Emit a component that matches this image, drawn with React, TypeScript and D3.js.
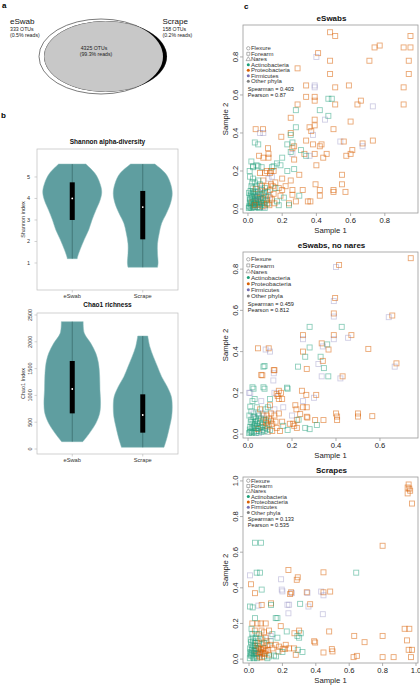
import * as d3 from 'd3';

type Pt = [number, number, number];

const FONT = '"Liberation Sans", Arial, Helvetica, sans-serif';

// a: OTU overlap between the two sampling methods
const vennNames = ['eSwab', 'Scrape'];
const vennOtus = [333, 158, 4325];
const vennReads = [0.5, 0.2, 99.3];

// b: violin outlines as [value, relative half width], plus box stats [q1, median, q3]
const groups = ['eSwab', 'Scrape'];
const shannonProfiles: [number, number][][] = [
  [[1.2, 0.17], [1.23, 0.17], [1.6, 0.26], [2.1, 0.41], [2.55, 0.56], [3.0, 0.67], [3.45, 0.8], [3.9, 0.94], [4.3, 1.0], [4.7, 0.94], [5.15, 0.78], [5.6, 0.46]],
  [[0.8, 0.5], [1.0, 0.52], [1.45, 0.5], [1.9, 0.5], [2.4, 0.56], [2.85, 0.64], [3.3, 0.8], [3.77, 0.94], [4.23, 1.0], [4.7, 0.94], [5.15, 0.78], [5.6, 0.41]],
];
const shannonBoxes = [[3.0, 4.0, 4.75], [2.1, 3.6, 4.35]];
const shannonTicks = [1, 2, 3, 4, 5];

const chaoProfiles: [number, number][][] = [
  [[137, 0.36], [292, 0.58], [479, 0.8], [665, 0.93], [852, 0.96], [1100, 0.94], [1350, 0.93], [1598, 0.89], [1785, 0.8], [1971, 0.63], [2158, 0.41], [2376, 0.37]],
  [[31, 0.72], [230, 0.83], [417, 0.91], [603, 0.98], [790, 1.0], [976, 0.97], [1163, 0.83], [1350, 0.64], [1536, 0.5], [1723, 0.36], [1909, 0.24], [2108, 0.17]],
];
const chaoBoxes = [[665, 1119, 1642], [305, 634, 1020]];
const chaoTicks = [0, 500, 1000, 1500, 2000, 2500];

// c: relative abundance per OTU in sample 1 vs sample 2, phylum index
const phylumNames = ['Actinobacteria', 'Proteobacteria', 'Firmicutes', 'Other phyla'];
const phylumColors = ['#1b9e77', '#d95f02', '#7570b3', '#808080'];
const phylumOpacity = [0.5, 0.55, 0.35, 0.4];
const siteNames = ['Flexure', 'Forearm', 'Nares'];

const eswabSpread: Pt[] = [
  [0.48, 0.93, 1], [0.51, 0.91, 1], [0.95, 0.91, 1], [0.77, 0.86, 1], [0.74, 0.85, 1], [0.91, 0.85, 1], [0.95, 0.85, 1],
  [0.41, 0.82, 1], [0.40, 0.80, 2], [0.48, 0.78, 1], [0.71, 0.78, 1], [0.94, 0.78, 1], [0.29, 0.74, 1], [0.48, 0.71, 1],
  [0.94, 0.71, 1], [0.34, 0.65, 1], [0.39, 0.65, 2], [0.39, 0.64, 2], [0.59, 0.65, 1], [0.51, 0.64, 1], [0.91, 0.64, 1],
  [0.34, 0.59, 1], [0.39, 0.59, 1], [0.39, 0.57, 1], [0.29, 0.55, 1], [0.51, 0.55, 1], [0.64, 0.55, 1], [0.66, 0.57, 1],
  [0.73, 0.54, 2], [0.91, 0.55, 1], [0.47, 0.58, 0], [0.49, 0.58, 0], [0.42, 0.52, 0], [0.28, 0.52, 0], [0.47, 0.49, 0],
  [0.45, 0.47, 2], [0.39, 0.47, 1], [0.25, 0.48, 1], [0.50, 0.42, 1], [0.60, 0.46, 1], [0.045, 0.42, 1], [0.088, 0.42, 1],
  [0.09, 0.40, 2], [0.07, 0.40, 2], [0.195, 0.38, 1], [0.25, 0.40, 1], [0.28, 0.43, 0], [0.36, 0.43, 1], [0.39, 0.44, 1],
  [0.37, 0.41, 1], [0.38, 0.39, 2], [0.04, 0.35, 0], [0.06, 0.34, 0], [0.117, 0.32, 1], [0.23, 0.34, 0], [0.27, 0.33, 1],
  [0.34, 0.36, 1], [0.38, 0.34, 1], [0.43, 0.34, 1], [0.54, 0.355, 2], [0.56, 0.355, 1], [0.67, 0.345, 1], [0.67, 0.33, 2],
  [0.73, 0.36, 1], [0.33, 0.29, 1], [0.39, 0.29, 1], [0.46, 0.29, 1], [0.44, 0.27, 1], [0.575, 0.28, 1], [0.60, 0.29, 1],
  [0.065, 0.28, 1], [0.12, 0.27, 1], [0.2, 0.27, 0], [0.25, 0.30, 0], [0.26, 0.32, 1], [0.34, 0.28, 0], [0.36, 0.28, 2],
  [0.25, 0.39, 0], [0.26, 0.35, 0], [0.31, 0.31, 0], [0.26, 0.29, 2], [0.42, 0.33, 1], [0.61, 0.31, 1], [0.40, 0.23, 1],
  [0.27, 0.26, 1], [0.19, 0.23, 0], [0.15, 0.225, 0], [0.135, 0.2, 1], [0.03, 0.225, 0], [0.06, 0.225, 0], [0.025, 0.14, 0],
  [0.55, 0.18, 1], [0.395, 0.13, 1], [0.42, 0.10, 1], [0.365, 0.04, 1], [0.42, 0.07, 1], [0.50, 0.10, 1], [0.50, 0.09, 1],
  [0.55, 0.13, 1], [0.57, 0.09, 1], [0.30, 0.07, 0], [0.32, 0.10, 1], [0.26, 0.075, 1], [0.24, 0.03, 1], [0.35, 0.04, 1],
];
const eswabCore: Pt[] = [
  [0.01, 0.01, 0], [0.02, 0.02, 0], [0.015, 0.04, 0], [0.03, 0.01, 0], [0.04, 0.03, 0], [0.01, 0.06, 0], [0.03, 0.05, 0],
  [0.05, 0.02, 0], [0.06, 0.04, 0], [0.02, 0.08, 0], [0.04, 0.07, 0], [0.07, 0.01, 0], [0.08, 0.03, 0], [0.05, 0.06, 1],
  [0.07, 0.06, 1], [0.09, 0.05, 1], [0.03, 0.09, 0], [0.06, 0.09, 0], [0.1, 0.02, 0], [0.11, 0.05, 1], [0.12, 0.03, 0],
  [0.08, 0.08, 1], [0.1, 0.09, 1], [0.02, 0.12, 0], [0.05, 0.12, 0], [0.08, 0.12, 1], [0.11, 0.12, 1], [0.13, 0.1, 1],
  [0.15, 0.08, 1], [0.14, 0.05, 1], [0.17, 0.04, 0], [0.19, 0.07, 1], [0.18, 0.11, 1], [0.16, 0.14, 1], [0.14, 0.17, 2],
  [0.15, 0.2, 1], [0.13, 0.19, 1], [0.12, 0.16, 2], [0.09, 0.15, 1], [0.06, 0.15, 0], [0.03, 0.16, 0], [0.01, 0.2, 0],
  [0.03, 0.22, 0], [0.05, 0.23, 0], [0.08, 0.22, 0], [0.02, 0.25, 0], [0.1, 0.19, 1], [0.2, 0.16, 1], [0.22, 0.12, 1],
  [0.25, 0.15, 1], [0.23, 0.2, 0], [0.27, 0.21, 0], [0.3, 0.18, 1], [0.21, 0.06, 0], [0.24, 0.02, 0], [0.28, 0.04, 1],
  [0.26, 0.1, 1], [0.04, 0.01, 3], [0.06, 0.02, 2], [0.09, 0.01, 2], [0.12, 0.07, 2], [0.07, 0.11, 2], [0.005, 0.005, 0],
  [0.02, 0.005, 0], [0.01, 0.03, 0], [0.035, 0.025, 0], [0.025, 0.035, 1], [0.045, 0.045, 0], [0.055, 0.01, 0],
  [0.065, 0.025, 1], [0.075, 0.045, 0], [0.085, 0.015, 1], [0.095, 0.035, 0], [0.015, 0.095, 0], [0.045, 0.105, 1],
  [0.055, 0.075, 0], [0.105, 0.07, 0], [0.125, 0.02, 1], [0.135, 0.13, 1], [0.16, 0.11, 0], [0.18, 0.02, 0], [0.2, 0.1, 1],
  [0.11, 0.2, 1], [0.14, 0.22, 0], [0.17, 0.24, 0], [0.09, 0.27, 1], [0.12, 0.29, 1], [0.07, 0.19, 1],
  [0.008, 0.015, 0], [0.018, 0.028, 0], [0.028, 0.018, 0], [0.038, 0.008, 0], [0.012, 0.05, 0], [0.024, 0.062, 0],
  [0.036, 0.042, 0], [0.048, 0.034, 0], [0.058, 0.052, 0], [0.068, 0.038, 0], [0.078, 0.022, 0], [0.088, 0.058, 0],
  [0.016, 0.072, 0], [0.032, 0.082, 0], [0.044, 0.088, 0], [0.062, 0.07, 0], [0.072, 0.08, 0], [0.082, 0.1, 0],
  [0.094, 0.082, 0], [0.104, 0.045, 0], [0.115, 0.09, 0], [0.028, 0.108, 0], [0.006, 0.085, 0], [0.05, 0.05, 0],
  [0.066, 0.005, 0], [0.098, 0.006, 0], [0.112, 0.028, 1], [0.13, 0.06, 1], [0.145, 0.12, 1], [0.155, 0.03, 1],
  [0.04, 0.14, 0], [0.07, 0.13, 0], [0.012, 0.17, 0], [0.1, 0.11, 0], [0.04, 0.02, 1], [0.06, 0.065, 2],
];

const noNaresSpread: Pt[] = [
  [0.74, 0.853, 1], [0.414, 0.82, 1], [0.40, 0.81, 2], [0.396, 0.66, 1], [0.39, 0.645, 2], [0.39, 0.585, 1], [0.39, 0.57, 2],
  [0.656, 0.575, 1], [0.64, 0.567, 2], [0.28, 0.52, 0], [0.426, 0.52, 0], [0.25, 0.48, 1], [0.25, 0.46, 2], [0.39, 0.48, 1],
  [0.39, 0.46, 2], [0.47, 0.48, 1], [0.455, 0.467, 2], [0.335, 0.44, 1], [0.36, 0.435, 0], [0.366, 0.41, 1], [0.34, 0.425, 2],
  [0.547, 0.413, 1], [0.045, 0.416, 1], [0.08, 0.41, 2], [0.094, 0.416, 1], [0.10, 0.40, 2], [0.25, 0.40, 1], [0.26, 0.375, 0],
  [0.28, 0.42, 0], [0.33, 0.375, 0], [0.32, 0.34, 2], [0.34, 0.355, 1], [0.345, 0.32, 0], [0.335, 0.28, 2], [0.365, 0.28, 0],
  [0.43, 0.28, 1], [0.42, 0.27, 2], [0.675, 0.343, 1], [0.667, 0.327, 2], [0.267, 0.316, 1], [0.227, 0.327, 0],
  [0.12, 0.31, 1], [0.117, 0.295, 2], [0.07, 0.327, 0], [0.06, 0.287, 1], [0.07, 0.227, 0], [0.02, 0.227, 0],
  [0.177, 0.225, 0], [0.14, 0.21, 1], [0.13, 0.195, 1], [0.155, 0.17, 1], [0.245, 0.21, 1], [0.265, 0.19, 1], [0.31, 0.19, 1],
  [0.30, 0.176, 2], [0.215, 0.14, 1], [0.267, 0.13, 1], [0.01, 0.2, 2], [0.01, 0.133, 0], [0.40, 0.10, 1], [0.405, 0.085, 1],
  [0.405, 0.068, 1], [0.50, 0.10, 1], [0.50, 0.085, 1], [0.565, 0.087, 1], [0.237, 0.097, 1], [0.267, 0.084, 1],
  [0.222, 0.068, 1], [0.305, 0.068, 1], [0.343, 0.068, 1], [0.313, 0.044, 0], [0.26, 0.03, 0], [0.28, 0.024, 0],
  [0.222, 0.03, 1], [0.205, 0.05, 1],
];
const noNaresCore: Pt[] = [
  [0.005, 0.005, 0], [0.015, 0.015, 0], [0.01, 0.035, 0], [0.025, 0.01, 0], [0.035, 0.03, 0], [0.02, 0.05, 0], [0.04, 0.05, 0],
  [0.05, 0.015, 0], [0.06, 0.035, 0], [0.015, 0.07, 0], [0.035, 0.075, 0], [0.065, 0.06, 1], [0.075, 0.015, 0], [0.085, 0.04, 1],
  [0.05, 0.09, 0], [0.025, 0.1, 2], [0.07, 0.09, 1], [0.095, 0.075, 1], [0.1, 0.02, 0], [0.11, 0.05, 1], [0.12, 0.09, 1],
  [0.13, 0.03, 1], [0.08, 0.12, 0], [0.04, 0.13, 0], [0.1, 0.14, 1], [0.12, 0.12, 2], [0.14, 0.1, 1], [0.155, 0.06, 1],
  [0.16, 0.13, 2], [0.14, 0.17, 1], [0.15, 0.2, 1], [0.135, 0.185, 1], [0.12, 0.2, 2], [0.1, 0.17, 0], [0.06, 0.16, 2],
  [0.03, 0.17, 0], [0.075, 0.22, 0], [0.025, 0.22, 0], [0.18, 0.22, 0], [0.19, 0.05, 1], [0.2, 0.09, 2], [0.22, 0.12, 1],
  [0.18, 0.02, 0], [0.21, 0.04, 1], [0.23, 0.07, 0], [0.25, 0.16, 2], [0.25, 0.13, 1], [0.27, 0.08, 1], [0.05, 0.005, 2],
  [0.09, 0.01, 3], [0.045, 0.025, 1], [0.055, 0.055, 0], [0.03, 0.085, 0], [0.115, 0.26, 2], [0.117, 0.31, 1],
  [0.065, 0.285, 1], [0.075, 0.33, 0], [0.005, 0.2, 2], [0.08, 0.07, 0], [0.02, 0.03, 0], [0.01, 0.01, 0], [0.03, 0.045, 0],
  [0.045, 0.065, 0], [0.065, 0.02, 0], [0.09, 0.06, 0], [0.105, 0.1, 1], [0.16, 0.04, 0], [0.145, 0.015, 1],
  [0.008, 0.022, 0], [0.018, 0.006, 0], [0.028, 0.04, 0], [0.038, 0.014, 0], [0.012, 0.058, 0], [0.024, 0.082, 0],
  [0.042, 0.04, 0], [0.052, 0.03, 0], [0.058, 0.075, 0], [0.068, 0.045, 0], [0.078, 0.03, 0], [0.088, 0.025, 0],
  [0.006, 0.09, 0], [0.032, 0.06, 0], [0.046, 0.1, 0], [0.062, 0.01, 0], [0.072, 0.07, 0], [0.082, 0.055, 1],
  [0.094, 0.045, 1], [0.104, 0.065, 1], [0.015, 0.11, 0], [0.055, 0.12, 1], [0.085, 0.09, 1], [0.035, 0.005, 0],
  [0.11, 0.015, 1], [0.125, 0.06, 1], [0.065, 0.1, 2], [0.02, 0.16, 0], [0.09, 0.13, 0],
];

const scrapeSpread: Pt[] = [
  [0.956, 0.98, 1], [0.95, 0.963, 1], [0.96, 0.957, 1], [0.965, 0.945, 1], [0.95, 0.93, 1], [0.976, 0.873, 1], [0.80, 0.636, 1],
  [0.036, 0.653, 0], [0.072, 0.653, 0], [0.642, 0.485, 0], [0.236, 0.5, 1], [0.446, 0.487, 1], [0.046, 0.485, 0],
  [0.066, 0.485, 0], [0.192, 0.448, 2], [0.292, 0.459, 1], [0.286, 0.445, 1], [0.076, 0.39, 0], [0.196, 0.39, 2],
  [0.256, 0.37, 2], [0.246, 0.365, 1], [0.252, 0.375, 1], [0.346, 0.375, 1], [0.35, 0.372, 2], [0.432, 0.379, 2],
  [0.446, 0.375, 1], [0.486, 0.379, 1], [0.446, 0.358, 2], [0.132, 0.313, 1], [0.132, 0.304, 0], [0.076, 0.304, 1],
  [0.056, 0.30, 2], [0.006, 0.295, 0], [0.022, 0.29, 0], [0.306, 0.31, 0], [0.366, 0.308, 1], [0.356, 0.295, 2],
  [0.236, 0.257, 2], [0.442, 0.252, 2], [0.17, 0.23, 0], [0.48, 0.155, 1], [0.63, 0.13, 1], [0.80, 0.13, 1],
  [0.932, 0.17, 1], [0.96, 0.17, 1], [0.946, 0.105, 1], [0.956, 0.052, 1], [0.976, 0.052, 1], [0.692, 0.095, 1],
  [0.496, 0.056, 1], [0.50, 0.043, 1], [0.446, 0.037, 1], [0.396, 0.093, 1], [0.626, 0.011, 1], [0.646, 0.018, 1],
  [0.80, 0.011, 1], [0.866, 0.011, 1], [0.97, 0.011, 1], [0.28, 0.024, 1], [0.292, 0.052, 0], [0.202, 0.058, 1],
  [0.216, 0.058, 1], [0.176, 0.043, 1], [0.162, 0.015, 0], [0.122, 0.015, 0], [0.32, 0.04, 0], [0.27, 0.06, 1],
  [0.31, 0.145, 0], [0.272, 0.145, 1], [0.226, 0.155, 0], [0.23, 0.305, 2], [0.24, 0.305, 2], [0.2, 0.38, 2],
];
const scrapeCore: Pt[] = [
  [0.005, 0.005, 0], [0.015, 0.02, 0], [0.01, 0.04, 0], [0.025, 0.01, 0], [0.03, 0.03, 0], [0.02, 0.06, 0], [0.04, 0.05, 1],
  [0.045, 0.015, 0], [0.055, 0.035, 1], [0.015, 0.08, 0], [0.035, 0.075, 0], [0.06, 0.06, 1], [0.065, 0.01, 1],
  [0.075, 0.03, 1], [0.05, 0.09, 1], [0.025, 0.1, 0], [0.07, 0.085, 1], [0.085, 0.065, 1], [0.09, 0.015, 0], [0.1, 0.045, 1],
  [0.11, 0.08, 1], [0.12, 0.025, 1], [0.08, 0.11, 0], [0.04, 0.12, 0], [0.1, 0.12, 1], [0.13, 0.1, 0], [0.14, 0.06, 1],
  [0.15, 0.02, 0], [0.16, 0.08, 1], [0.14, 0.14, 0], [0.12, 0.16, 1], [0.09, 0.15, 1], [0.06, 0.14, 0], [0.02, 0.14, 0],
  [0.035, 0.16, 1], [0.02, 0.2, 1], [0.05, 0.2, 1], [0.07, 0.2, 1], [0.1, 0.2, 1], [0.19, 0.185, 1], [0.18, 0.07, 1],
  [0.2, 0.04, 0], [0.22, 0.08, 1], [0.24, 0.06, 1], [0.17, 0.12, 0], [0.13, 0.13, 2], [0.06, 0.03, 2], [0.035, 0.045, 3],
  [0.11, 0.005, 0], [0.09, 0.09, 0], [0.036, 0.23, 0], [0.16, 0.23, 0], [0.3, 0.16, 1], [0.29, 0.13, 0], [0.3, 0.12, 0],
  [0.39, 0.1, 1], [0.012, 0.42, 1], [0.036, 0.37, 1], [0.006, 0.47, 2], [0.01, 0.02, 0], [0.02, 0.035, 0], [0.03, 0.005, 0],
  [0.045, 0.03, 0], [0.055, 0.055, 0], [0.065, 0.04, 1], [0.08, 0.05, 1], [0.095, 0.03, 1], [0.01, 0.11, 0],
  [0.006, 0.06, 0], [0.016, 0.05, 0], [0.026, 0.075, 0], [0.036, 0.09, 0], [0.012, 0.095, 0], [0.022, 0.12, 0],
  [0.042, 0.06, 0], [0.052, 0.075, 1], [0.062, 0.02, 1], [0.072, 0.055, 1], [0.082, 0.035, 1], [0.092, 0.06, 1],
  [0.008, 0.03, 0], [0.028, 0.045, 0], [0.048, 0.005, 0], [0.058, 0.1, 0], [0.068, 0.12, 1], [0.078, 0.01, 1],
  [0.105, 0.1, 1], [0.115, 0.05, 1], [0.125, 0.08, 1], [0.045, 0.14, 0], [0.075, 0.16, 1], [0.015, 0.17, 0],
];

const scatterTitles = ['eSwabs', 'eSwabs, no nares', 'Scrapes'];
const scatterData = [eswabSpread.concat(eswabCore), noNaresSpread.concat(noNaresCore), scrapeSpread.concat(scrapeCore)];
const spearman = [0.403, 0.459, 0.133];
const pearson = [0.87, 0.812, 0.535];
const xTickSets = [[0, 0.2, 0.4, 0.6, 0.8], [0, 0.2, 0.4, 0.6], [0, 0.2, 0.4, 0.6, 0.8, 1.0]];
const yTickSets = [[0, 0.2, 0.4, 0.6, 0.8], [0, 0.2, 0.4, 0.6, 0.8], [0, 0.2, 0.4, 0.6, 0.8, 1.0]];

// panel geometry for c
const scatterFrames = [
  { top: 25, bottom: 213, xDom: [-0.029, 0.994], yDom: [-0.021, 0.968], legY: 48.3, legDy: 5.5, legFs: 6.0, statY: 89.3 },
  { top: 252, bottom: 438, xDom: [-0.023, 0.773], yDom: [-0.019, 0.883], legY: 259.3, legDy: 6.1, legFs: 6.2, statY: 304.3 },
  { top: 477, bottom: 663, xDom: [-0.036, 1.012], yDom: [-0.022, 1.022], legY: 480.7, legDy: 5.3, legFs: 5.7, statY: 519.3 },
];
const SC_LEFT = 243;
const SC_RIGHT = 418;

const fmt = d3.format('.1f');

function Scatter({ idx }: { idx: number }) {
  const f = scatterFrames[idx];
  const pts = scatterData[idx];
  const x = d3.scaleLinear().domain(f.xDom).range([SC_LEFT, SC_RIGHT]);
  const y = d3.scaleLinear().domain(f.yDom).range([f.bottom, f.top]);
  const sym = d3.symbol();
  const siteShapes = [d3.symbolCircle, d3.symbolSquare, d3.symbolTriangle];
  const lx = 248.3;
  const side = 5;
  return (
    <g>
      <text x={(SC_LEFT + SC_RIGHT) / 2 + 1} y={f.top - 4.5} textAnchor="middle" fontSize={8} fontWeight="bold" fill="#111">
        {scatterTitles[idx]}
      </text>
      {pts.map((d, i) => (
        <rect
          key={i}
          x={x(d[0]) - side / 2}
          y={y(d[1]) - side / 2}
          width={side}
          height={side}
          fill="none"
          stroke={phylumColors[d[2]]}
          strokeOpacity={phylumOpacity[d[2]]}
          strokeWidth={0.9}
        />
      ))}
      <rect x={SC_LEFT} y={f.top} width={SC_RIGHT - SC_LEFT} height={f.bottom - f.top} fill="none" stroke="#9a9a9a" strokeWidth={0.8} />
      {xTickSets[idx].map((t) => (
        <g key={t}>
          <line x1={x(t)} x2={x(t)} y1={f.bottom} y2={f.bottom + 3} stroke="#9a9a9a" strokeWidth={0.8} />
          <text x={x(t)} y={f.bottom + 9.5} textAnchor="middle" fontSize={7.6} fill="#222">{fmt(t)}</text>
        </g>
      ))}
      {yTickSets[idx].map((t) => (
        <g key={t}>
          <line x1={SC_LEFT - 3} x2={SC_LEFT} y1={y(t)} y2={y(t)} stroke="#9a9a9a" strokeWidth={0.8} />
          <text transform={`translate(238,${y(t)}) rotate(-90)`} textAnchor="middle" fontSize={7.6} fill="#222">{fmt(t)}</text>
        </g>
      ))}
      <text x={(SC_LEFT + SC_RIGHT) / 2} y={f.bottom + 19.5} textAnchor="middle" fontSize={7.7} fill="#222">Sample 1</text>
      <text transform={`translate(227.5,${(f.top + f.bottom) / 2}) rotate(-90)`} textAnchor="middle" fontSize={7.7} fill="#222">Sample 2</text>
      {siteNames.map((s, i) => (
        <g key={s} transform={`translate(0,${f.legY + i * f.legDy})`}>
          <path transform={`translate(${lx},0)`} d={sym.type(siteShapes[i]).size(9)()!} fill="none" stroke="#666" strokeWidth={0.5} />
          <text x={lx + 2.6} y={2.1} fontSize={f.legFs} fill="#333">{s}</text>
        </g>
      ))}
      {phylumNames.map((p, i) => (
        <g key={p} transform={`translate(0,${f.legY + (i + 3) * f.legDy})`}>
          <circle cx={lx} cy={0} r={1.5} fill={phylumColors[i]} />
          <text x={lx + 2.6} y={2.1} fontSize={f.legFs} fill="#333">{p}</text>
        </g>
      ))}
      <text x={lx - 0.5} y={f.statY + 2} fontSize={5.6} fill="#222">{`Spearman = ${spearman[idx]}`}</text>
      <text x={lx - 0.5} y={f.statY + 8} fontSize={5.6} fill="#222">{`Pearson = ${pearson[idx]}`}</text>
    </g>
  );
}

function Violins({
  title, titleY, top, bottom, yDom, ticks, profiles, boxes, yLabel, rotateTicks, catY,
}: {
  title: string; titleY: number; top: number; bottom: number; yDom: number[]; ticks: number[];
  profiles: [number, number][][]; boxes: number[][]; yLabel: string; rotateTicks: boolean; catY: number;
}) {
  const left = 37;
  const right = 178;
  const x = d3.scalePoint<string>().domain(groups).range([left, right]).padding(0.5);
  const y = d3.scaleLinear().domain(yDom).range([bottom, top]);
  const halfW = 29.5;
  return (
    <g>
      <text x={107.5} y={titleY} textAnchor="middle" fontSize={6.5} fontWeight="bold" fill="#111">{title}</text>
      <rect x={left} y={top} width={right - left} height={bottom - top} fill="none" stroke="#bdbdbd" strokeWidth={0.7} />
      {groups.map((g, i) => {
        const cx = x(g)!;
        const area = d3.area<[number, number]>()
          .y((d) => y(d[0]))
          .x0((d) => cx - d[1] * halfW)
          .x1((d) => cx + d[1] * halfW)
          .curve(d3.curveCatmullRom);
        const prof = profiles[i];
        const [q1, med, q3] = boxes[i];
        return (
          <g key={g}>
            <path d={area(prof)!} fill="#5f9ea0" stroke="#86b8b9" strokeWidth={0.5} />
            <line x1={cx} x2={cx} y1={y(prof[0][0])} y2={y(prof[prof.length - 1][0])} stroke="#2f5f60" strokeWidth={0.6} />
            <rect x={cx - 2.5} y={y(q3)} width={5} height={y(q1) - y(q3)} fill="#000" />
            <circle cx={cx} cy={y(med)} r={0.9} fill="#fff" />
            <line x1={cx} x2={cx} y1={bottom} y2={bottom + 2.5} stroke="#bdbdbd" strokeWidth={0.7} />
            <text x={cx} y={catY} textAnchor="middle" fontSize={5.7} fill="#333">{g}</text>
          </g>
        );
      })}
      {ticks.map((t) => (
        <g key={t}>
          <line x1={left - 2.5} x2={left} y1={y(t)} y2={y(t)} stroke="#bdbdbd" strokeWidth={0.7} />
          {rotateTicks ? (
            <text transform={`translate(32,${y(t)}) rotate(-90)`} textAnchor="middle" fontSize={5.5} fill="#333">{t}</text>
          ) : (
            <text x={28.5} y={y(t) + 2} textAnchor="middle" fontSize={5.5} fill="#333">{t}</text>
          )}
        </g>
      ))}
      <text transform={`translate(24.5,${(top + bottom) / 2}) rotate(-90)`} textAnchor="middle" fontSize={5.5} fill="#333">{yLabel}</text>
    </g>
  );
}

function Venn() {
  const pct = (v: number) => `(${v}% reads)`;
  return (
    <g>
      <defs>
        <clipPath id="scrape-clip">
          <ellipse cx={105.5} cy={56.5} rx={61.5} ry={35.5} />
        </clipPath>
      </defs>
      <ellipse cx={101} cy={56.5} rx={62} ry={37.5} fill="#fff" stroke="#222" strokeWidth={0.6} />
      <ellipse cx={105.5} cy={56.5} rx={61.5} ry={35.5} fill="#000" />
      <ellipse cx={101} cy={56.5} rx={62} ry={37.5} fill="#c8c8c8" clipPath="url(#scrape-clip)" />
      <ellipse cx={105.5} cy={56.5} rx={61.5} ry={35.5} fill="none" stroke="#555" strokeWidth={0.4} clipPath="url(#scrape-clip)" />
      <text x={10} y={24} fontSize={8} fill="#111">{vennNames[0]}</text>
      <text x={10} y={30.5} fontSize={5.2} fill="#222">{`${vennOtus[0]} OTUs`}</text>
      <text x={10} y={36.5} fontSize={5.2} fill="#222">{pct(vennReads[0])}</text>
      <text x={162.5} y={24} fontSize={8} fill="#111">{vennNames[1]}</text>
      <text x={162.5} y={30.5} fontSize={5.2} fill="#222">{`${vennOtus[1]} OTUs`}</text>
      <text x={162.5} y={36.5} fontSize={5.2} fill="#222">{pct(vennReads[1])}</text>
      <text x={94} y={50} textAnchor="middle" fontSize={5.2} fill="#222">{`${vennOtus[2]} OTUs`}</text>
      <text x={96} y={56} textAnchor="middle" fontSize={5.2} fill="#222">{pct(vennReads[2])}</text>
    </g>
  );
}

export default function App() {
  return (
    <div style={{ position: 'absolute', left: 0, top: 0 }}>
      <svg width={420} height={685} fontFamily={FONT} style={{ display: 'block', background: '#fff' }}>
        <text x={2} y={8} fontSize={8} fontWeight="bold">a</text>
        <text x={1} y={118} fontSize={8} fontWeight="bold">b</text>
        <text x={244} y={9} fontSize={8} fontWeight="bold">c</text>
        <Venn />
        <Violins
          title="Shannon alpha-diversity" titleY={144.3} top={149} bottom={290} yDom={[-0.256, 6.3]}
          ticks={shannonTicks} profiles={shannonProfiles} boxes={shannonBoxes} yLabel="Shannon index"
          rotateTicks={false} catY={297.7}
        />
        <Violins
          title="Chao1 richness" titleY={307.3} top={313} bottom={454} yDom={[-93, 2537]}
          ticks={chaoTicks} profiles={chaoProfiles} boxes={chaoBoxes} yLabel="Chao1 Index"
          rotateTicks={true} catY={461.7}
        />
        {scatterTitles.map((_t, i) => <Scatter key={i} idx={i} />)}
      </svg>
    </div>
  );
}
